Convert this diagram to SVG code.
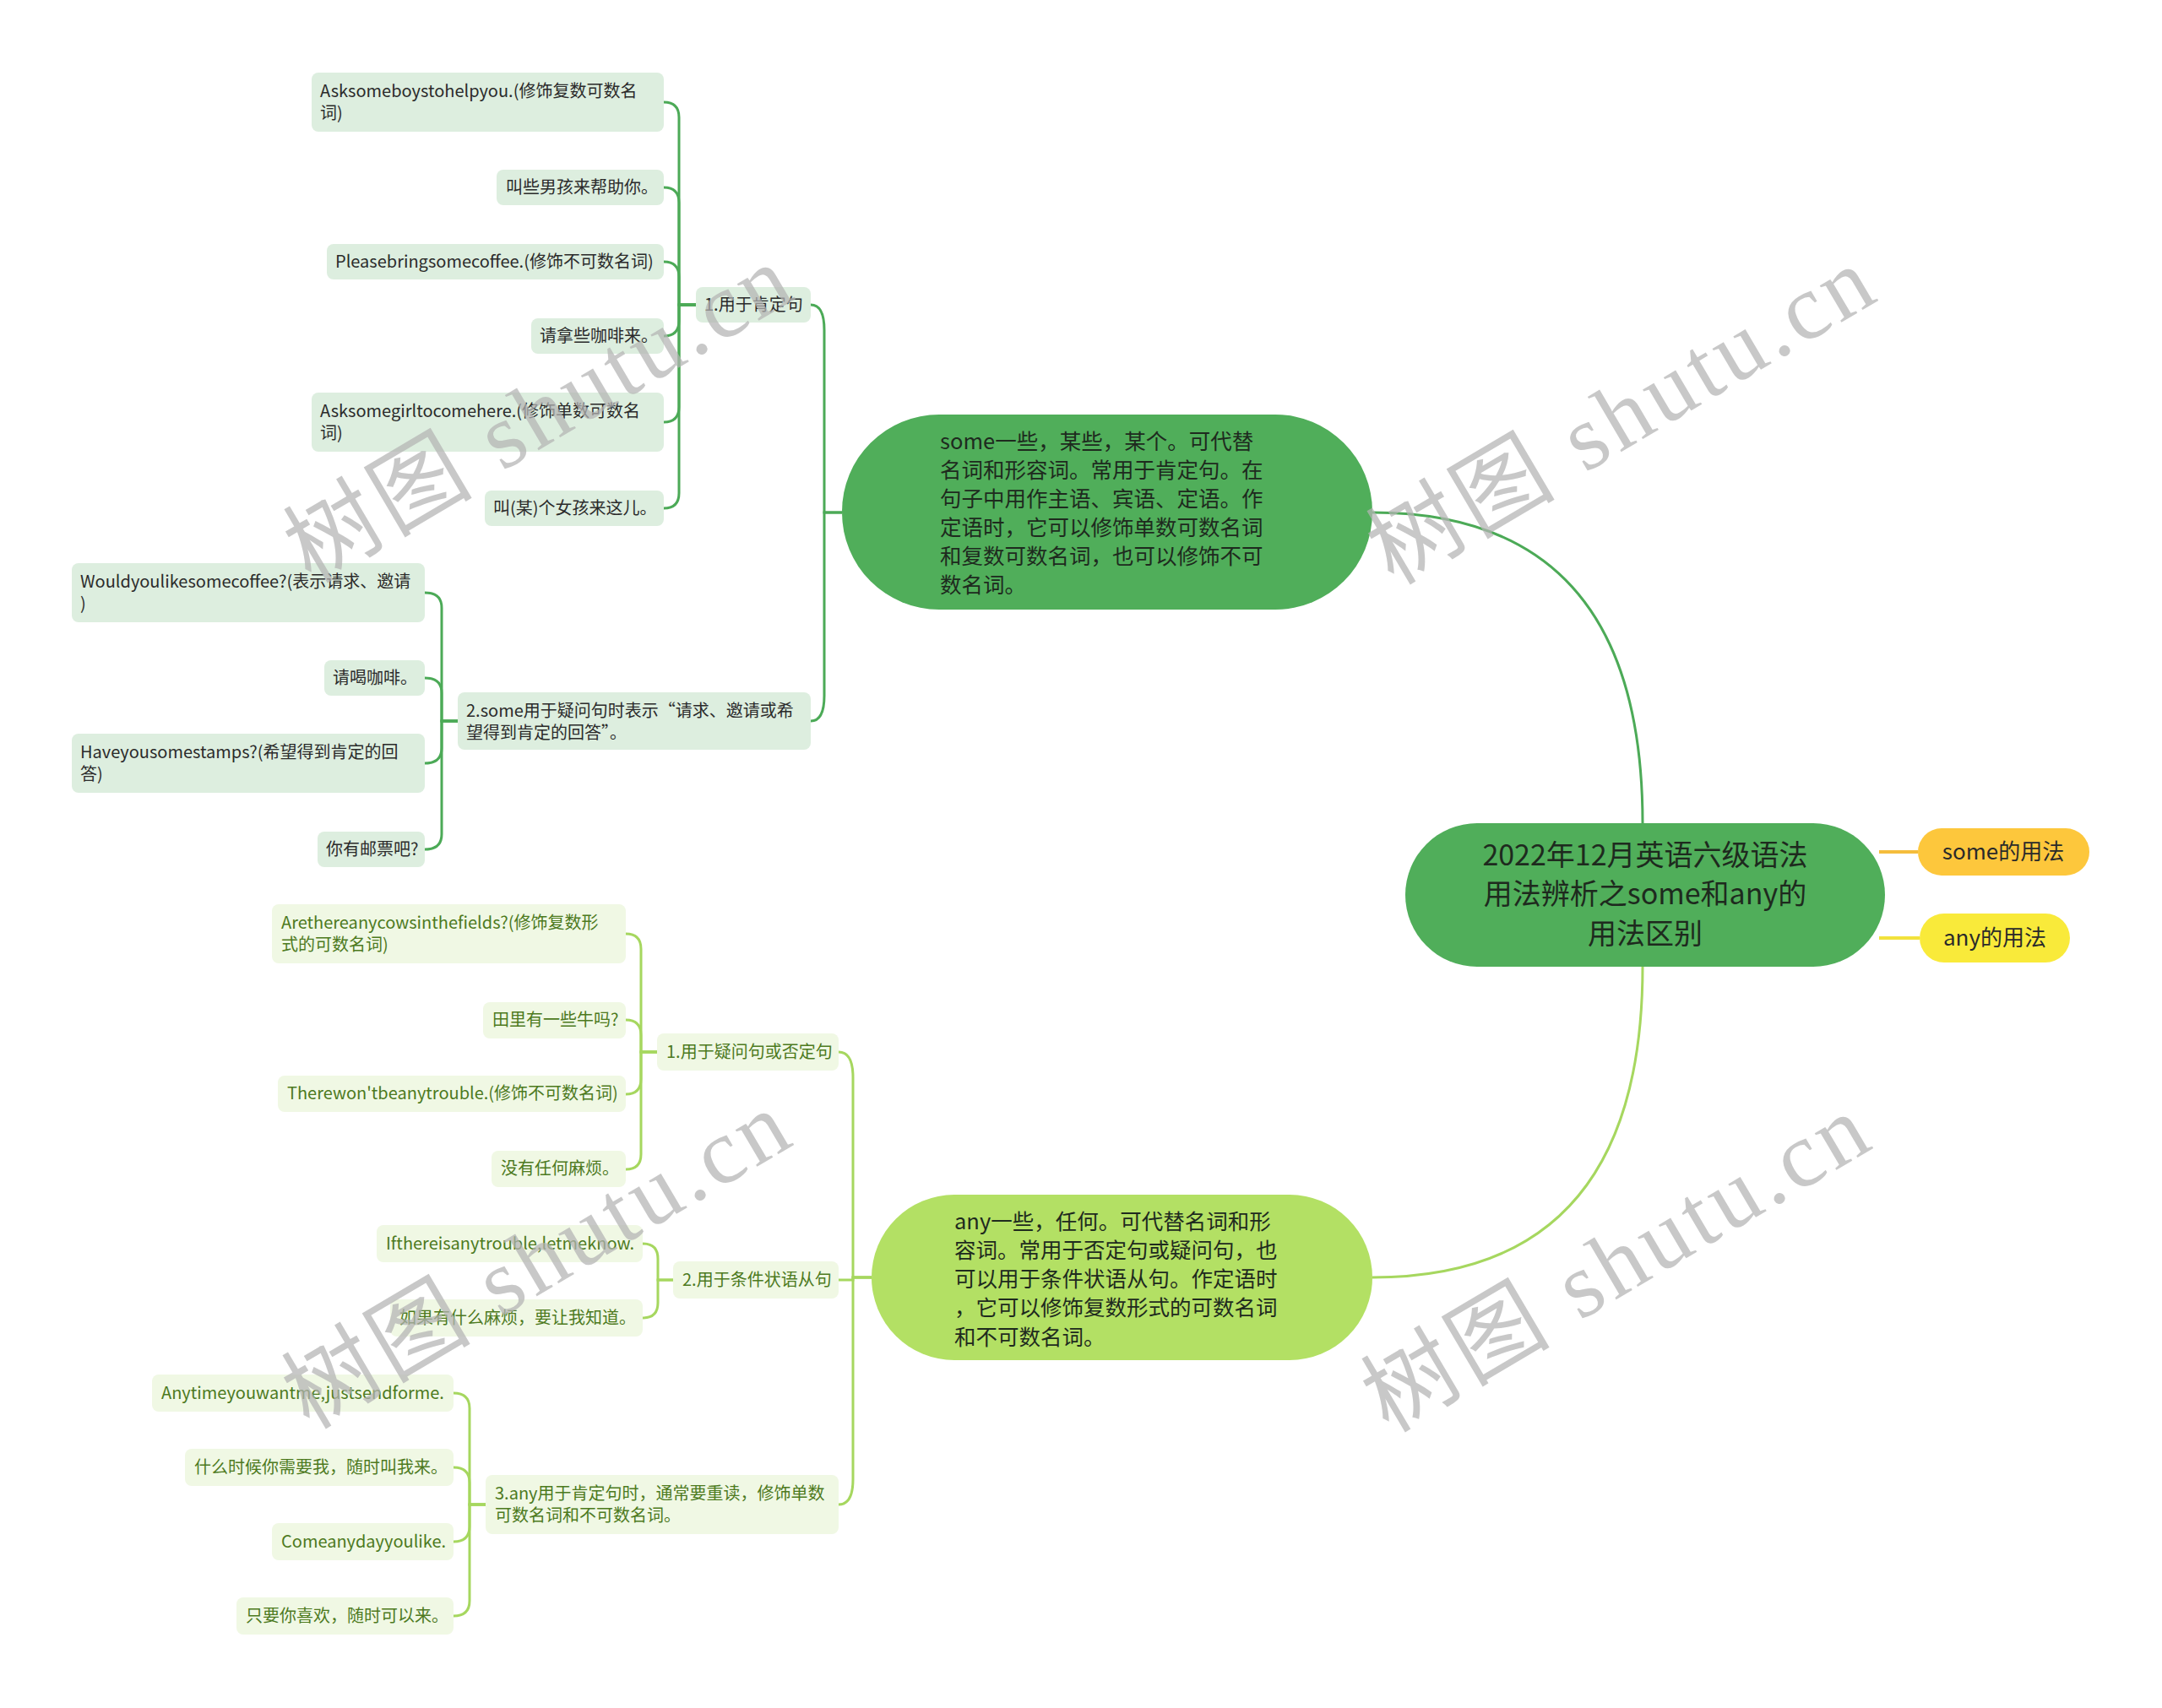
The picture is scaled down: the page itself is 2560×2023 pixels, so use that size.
<svg xmlns="http://www.w3.org/2000/svg" width="2560" height="2023" viewBox="0 0 2560 2023">
<style>
text{font-family:"Noto Sans CJK SC","Noto Sans",sans-serif;}
.lf{font-size:20px;fill:#2b2b2b;}
.la{font-size:20px;fill:#4d7a1e;}
.bs{fill:#DDEEDF;}
.ba{fill:#F0F8E4;}
.cs{fill:none;stroke:#4CAA57;stroke-width:3;}
.ca{fill:none;stroke:#A6D75F;stroke-width:3;}
.wm{font-family:"Liberation Serif","Noto Sans CJK SC",serif;font-size:110px;fill:#b4b4b4;opacity:0.72;}
</style>
<rect width="2560" height="2023" fill="#ffffff"/>
<g id="connectors">
<path class="cs" d="M1945 975 Q1945 607 1625 607"/>
<path class="ca" d="M1945 1145 Q1945 1513 1625 1513"/>
<path d="M2225 1009 L2271 1009" fill="none" stroke="#F5BD3C" stroke-width="4"/>
<path d="M2225 1111 L2273 1111" fill="none" stroke="#F2E23C" stroke-width="4"/>
<path class="cs" d="M997 607 L976 607 L976 391 Q976 361 960 361"/>
<path class="cs" d="M997 607 L976 607 L976 824 Q976 854 960 854"/>
<path class="cs" d="M824 361 L804 361 L804 139 Q804 121 786 121"/>
<path class="cs" d="M824 361 L804 361 L804 240 Q804 222 786 222"/>
<path class="cs" d="M824 361 L804 361 L804 328 Q804 310 786 310"/>
<path class="cs" d="M824 361 L804 361 L804 380 Q804 398 786 398"/>
<path class="cs" d="M824 361 L804 361 L804 482 Q804 500 786 500"/>
<path class="cs" d="M824 361 L804 361 L804 584 Q804 602 786 602"/>
<path class="cs" d="M542 854 L523 854 L523 720 Q523 702 503 702"/>
<path class="cs" d="M542 854 L523 854 L523 821 Q523 803 503 803"/>
<path class="cs" d="M542 854 L523 854 L523 886 Q523 904 503 904"/>
<path class="cs" d="M542 854 L523 854 L523 988 Q523 1006 503 1006"/>
<path class="ca" d="M1032 1513 L1010 1513 L1010 1276 Q1010 1246 993 1246"/>
<path class="ca" d="M1032 1513 L1010 1513 L1010 1516 L993 1516"/>
<path class="ca" d="M1032 1513 L1010 1513 L1010 1752 Q1010 1782 993 1782"/>
<path class="ca" d="M778 1246 L759 1246 L759 1124 Q759 1106 741 1106"/>
<path class="ca" d="M778 1246 L759 1246 L759 1226 Q759 1208 741 1208"/>
<path class="ca" d="M778 1246 L759 1246 L759 1278 Q759 1296 741 1296"/>
<path class="ca" d="M778 1246 L759 1246 L759 1367 Q759 1385 741 1385"/>
<path class="ca" d="M797 1516 L779 1516 L779 1491 Q779 1473 761 1473"/>
<path class="ca" d="M797 1516 L779 1516 L779 1543 Q779 1561 761 1561"/>
<path class="ca" d="M575 1782 L556 1782 L556 1668 Q556 1650 537 1650"/>
<path class="ca" d="M575 1782 L556 1782 L556 1756 Q556 1738 537 1738"/>
<path class="ca" d="M575 1782 L556 1782 L556 1808 Q556 1826 537 1826"/>
<path class="ca" d="M575 1782 L556 1782 L556 1896 Q556 1914 537 1914"/>
</g>
<g id="root">
<rect x="1664" y="975" width="568" height="170" rx="85" fill="#50AE5A"/>
<text x="1948" y="1025" font-size="34" fill="#1e2a1e" text-anchor="middle">2022年12月英语六级语法</text>
<text x="1948" y="1071" font-size="34" fill="#1e2a1e" text-anchor="middle">用法辨析之some和any的</text>
<text x="1948" y="1118" font-size="34" fill="#1e2a1e" text-anchor="middle">用法区别</text>
</g>
<g id="some-usage">
<rect x="2271" y="981" width="203" height="56" rx="28" fill="#FDC73C"/>
<text x="2372" y="1018" font-size="26" fill="#2a2a2a" text-anchor="middle">some的用法</text>
</g>
<g id="any-usage">
<rect x="2273" y="1082" width="178" height="58" rx="29" fill="#F9EA3A"/>
<text x="2362" y="1120" font-size="26" fill="#2a2a2a" text-anchor="middle">any的用法</text>
</g>
<g id="some-node">
<rect x="997" y="491" width="628" height="231" rx="115" fill="#50AE5A"/>
<text font-size="25.5" fill="#1e2a1e">
<tspan x="1113" y="532">some一些，某些，某个。可代替</tspan>
<tspan x="1113" y="566">名词和形容词。常用于肯定句。在</tspan>
<tspan x="1113" y="600">句子中用作主语、宾语、定语。作</tspan>
<tspan x="1113" y="634">定语时，它可以修饰单数可数名词</tspan>
<tspan x="1113" y="668">和复数可数名词，也可以修饰不可</tspan>
<tspan x="1113" y="702">数名词。</tspan>
</text>
</g>
<g id="any-node">
<rect x="1032" y="1415" width="593" height="196" rx="98" fill="#B3E064"/>
<text font-size="25.5" fill="#1e2a1e">
<tspan x="1130" y="1456">any一些，任何。可代替名词和形</tspan>
<tspan x="1130" y="1490">容词。常用于否定句或疑问句，也</tspan>
<tspan x="1130" y="1524">可以用于条件状语从句。作定语时</tspan>
<tspan x="1130" y="1558">，它可以修饰复数形式的可数名词</tspan>
<tspan x="1130" y="1593">和不可数名词。</tspan>
</text>
</g>
<g id="s1">
<rect class="bs" x="824" y="340" width="136" height="42" rx="8"/>
<text class="lf" x="834" y="368">1.用于肯定句</text>
</g>
<g id="a1">
<rect class="bs" x="369" y="86" width="417" height="70" rx="8"/>
<text class="lf"><tspan x="379" y="115">Asksomeboystohelpyou.(修饰复数可数名</tspan><tspan x="379" y="141">词)</tspan></text>
</g>
<g id="a2">
<rect class="bs" x="588" y="201" width="198" height="42" rx="8"/>
<text class="lf" x="599" y="229">叫些男孩来帮助你。</text>
</g>
<g id="a3">
<rect class="bs" x="387" y="289" width="399" height="42" rx="8"/>
<text class="lf" x="397" y="317">Pleasebringsomecoffee.(修饰不可数名词)</text>
</g>
<g id="a4">
<rect class="bs" x="629" y="377" width="157" height="42" rx="8"/>
<text class="lf" x="639" y="405">请拿些咖啡来。</text>
</g>
<g id="a5">
<rect class="bs" x="369" y="465" width="417" height="70" rx="8"/>
<text class="lf"><tspan x="379" y="494">Asksomegirltocomehere.(修饰单数可数名</tspan><tspan x="379" y="520">词)</tspan></text>
</g>
<g id="a6">
<rect class="bs" x="574" y="581" width="212" height="42" rx="8"/>
<text class="lf" x="584" y="609">叫(某)个女孩来这儿。</text>
</g>
<g id="s2">
<rect class="bs" x="542" y="820" width="418" height="68" rx="8"/>
<text class="lf"><tspan x="552" y="849">2.some用于疑问句时表示“请求、邀请或希</tspan><tspan x="552" y="875">望得到肯定的回答”。</tspan></text>
</g>
<g id="b1">
<rect class="bs" x="85" y="667" width="418" height="70" rx="8"/>
<text class="lf"><tspan x="95" y="696">Wouldyoulikesomecoffee?(表示请求、邀请</tspan><tspan x="95" y="722">)</tspan></text>
</g>
<g id="b2">
<rect class="bs" x="384" y="782" width="119" height="42" rx="8"/>
<text class="lf" x="394" y="810">请喝咖啡。</text>
</g>
<g id="b3">
<rect class="bs" x="85" y="869" width="418" height="70" rx="8"/>
<text class="lf"><tspan x="95" y="898">Haveyousomestamps?(希望得到肯定的回</tspan><tspan x="95" y="924">答)</tspan></text>
</g>
<g id="b4">
<rect class="bs" x="376" y="985" width="127" height="42" rx="8"/>
<text class="lf" x="386" y="1013">你有邮票吧?</text>
</g>
<g id="q1">
<rect class="ba" x="778" y="1224" width="215" height="44" rx="8"/>
<text class="la" x="789" y="1253">1.用于疑问句或否定句</text>
</g>
<g id="c1">
<rect class="ba" x="322" y="1071" width="419" height="70" rx="8"/>
<text class="la"><tspan x="333" y="1100">Arethereanycowsinthefields?(修饰复数形</tspan><tspan x="333" y="1126">式的可数名词)</tspan></text>
</g>
<g id="c2">
<rect class="ba" x="572" y="1187" width="169" height="43" rx="8"/>
<text class="la" x="583" y="1215">田里有一些牛吗?</text>
</g>
<g id="c3">
<rect class="ba" x="329" y="1274" width="412" height="43" rx="8"/>
<text class="la" x="340" y="1302">Therewon'tbeanytrouble.(修饰不可数名词)</text>
</g>
<g id="c4">
<rect class="ba" x="582" y="1363" width="159" height="43" rx="8"/>
<text class="la" x="593" y="1391">没有任何麻烦。</text>
</g>
<g id="q2">
<rect class="ba" x="797" y="1494" width="196" height="44" rx="8"/>
<text class="la" x="808" y="1523">2.用于条件状语从句</text>
</g>
<g id="d1">
<rect class="ba" x="446" y="1451" width="315" height="44" rx="8"/>
<text class="la" x="457" y="1480">Ifthereisanytrouble,letmeknow.</text>
</g>
<g id="d2">
<rect class="ba" x="462" y="1539" width="299" height="44" rx="8"/>
<text class="la" x="473" y="1568">如果有什么麻烦，要让我知道。</text>
</g>
<g id="q3">
<rect class="ba" x="575" y="1747" width="418" height="70" rx="8"/>
<text class="la"><tspan x="586" y="1776">3.any用于肯定句时，通常要重读，修饰单数</tspan><tspan x="586" y="1802">可数名词和不可数名词。</tspan></text>
</g>
<g id="e1">
<rect class="ba" x="180" y="1628" width="357" height="44" rx="8"/>
<text class="la" x="191" y="1657">Anytimeyouwantme,justsendforme.</text>
</g>
<g id="e2">
<rect class="ba" x="219" y="1716" width="318" height="44" rx="8"/>
<text class="la" x="230" y="1745">什么时候你需要我，随时叫我来。</text>
</g>
<g id="e3">
<rect class="ba" x="322" y="1804" width="215" height="44" rx="8"/>
<text class="la" x="333" y="1833">Comeanydayyoulike.</text>
</g>
<g id="e4">
<rect class="ba" x="280" y="1892" width="257" height="44" rx="8"/>
<text class="la" x="291" y="1921">只要你喜欢，随时可以来。</text>
</g>
<g id="watermarks">
<text class="wm" transform="translate(368 692) rotate(-30.5)" textLength="668" lengthAdjust="spacing">树图 shutu.cn</text>
<text class="wm" transform="translate(1650 694) rotate(-30.5)" textLength="668" lengthAdjust="spacing">树图 shutu.cn</text>
<text class="wm" transform="translate(366 1694) rotate(-30.5)" textLength="668" lengthAdjust="spacing">树图 shutu.cn</text>
<text class="wm" transform="translate(1644 1698) rotate(-30.5)" textLength="668" lengthAdjust="spacing">树图 shutu.cn</text>
</g>
</svg>
